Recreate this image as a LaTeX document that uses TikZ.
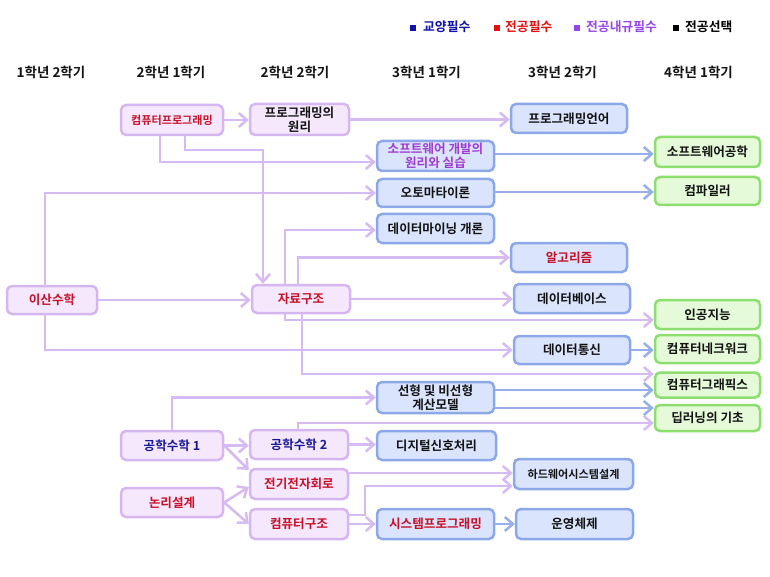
\documentclass[tikz,border=0pt]{standalone}
\usepackage{fontspec}
\setmainfont{Noto Sans CJK KR}[BoldFont={* Bold}]
\usetikzlibrary{arrows.meta}
\definecolor{pfill}{RGB}{245,232,252}
\definecolor{pdraw}{RGB}{214,182,240}
\definecolor{bfill}{RGB}{218,228,252}
\definecolor{bdraw}{RGB}{140,168,232}
\definecolor{gfill}{RGB}{228,250,216}
\definecolor{gdraw}{RGB}{140,222,110}
\definecolor{pline}{RGB}{214,186,244}
\definecolor{bline}{RGB}{150,174,236}
\definecolor{tred}{RGB}{200,16,40}
\definecolor{tblue}{RGB}{24,24,150}
\definecolor{tpurp}{RGB}{160,60,210}
\definecolor{tblack}{RGB}{20,20,20}
\definecolor{lgblue}{RGB}{16,16,170}
\definecolor{lgred}{RGB}{226,16,16}
\definecolor{lgpurp}{RGB}{150,70,230}
\begin{document}
\begin{tikzpicture}[x=1pt,y=-1pt,
  box/.style={rounded corners=5pt, line width=2.5pt, inner sep=0pt, align=center,
    text=tblack, font=\fontsize{12.6}{14}\selectfont\bfseries},
  pbox/.style={box, fill=pfill, draw=pdraw},
  bbox/.style={box, fill=bfill, draw=bdraw},
  gbox/.style={box, fill=gfill, draw=gdraw},
  small/.style={font=\fontsize{11.1}{13}\selectfont\bfseries},
  parrow/.style={draw=pline, line width=2.5pt, -{Straight Barb[length=8pt,width=14pt]}},
  barrow/.style={draw=bline, line width=2.5pt, -{Straight Barb[length=8pt,width=14pt]}},
  head/.style={font=\fontsize{13.5}{15}\selectfont\bfseries, text=tblack, inner sep=0pt},
  lgsq/.style={minimum width=5.5pt, minimum height=6pt, inner sep=0pt},
  lgtext/.style={font=\fontsize{12.8}{14}\selectfont\bfseries, inner sep=0pt, anchor=west}
]
\useasboundingbox (0,0) rectangle (770,577);
\fill[white] (0,0) rectangle (770,577);

% legend
\node[lgsq, fill=lgblue] (sq1) at (413,28) {};
\node[lgtext, text=lgblue] (lt1) at (423,27) {교양필수};
\node[lgsq, fill=lgred] (sq2) at (497,28) {};
\node[lgtext, text=lgred] (lt2) at (505,27) {전공필수};
\node[lgsq, fill=lgpurp] (sq3) at (577,28) {};
\node[lgtext, text=lgpurp] (lt3) at (586,27) {전공내규필수};
\node[lgsq, fill=black] (sq4) at (676,28) {};
\node[lgtext, text=black] (lt4) at (685,27) {전공선택};

% headers
\node[head] (h1) at (51,72) {1학년 2학기};
\node[head] (h2) at (171,72) {2학년 1학기};
\node[head] (h3) at (295,72) {2학년 2학기};
\node[head] (h4) at (426.5,72) {3학년 1학기};
\node[head] (h5) at (562.5,72) {3학년 2학기};
\node[head] (h6) at (698.5,72) {4학년 1학기};

% purple boxes
\node[pbox, small, text=tred, minimum width=102pt, minimum height=30pt] (cp) at (172,120) {컴퓨터프로그래밍};
\node[pbox, minimum width=99pt, minimum height=31pt] (pp) at (299.5,119.5) {프로그래밍의\\원리};
\node[pbox, text=tred, minimum width=90pt, minimum height=28pt] (dm) at (52,300) {이산수학};
\node[pbox, text=tred, minimum width=98pt, minimum height=28pt] (ds) at (301,299) {자료구조};
\node[pbox, text=tblue, minimum width=102pt, minimum height=29pt] (em1) at (172,445.5) {공학수학 1};
\node[pbox, text=tred, minimum width=102pt, minimum height=29pt] (ld) at (172,502.5) {논리설계};
\node[pbox, text=tblue, minimum width=98pt, minimum height=29pt] (em2) at (299,444.5) {공학수학 2};
\node[pbox, text=tred, minimum width=98pt, minimum height=30pt] (ee) at (299,484) {전기전자회로};
\node[pbox, text=tred, minimum width=98pt, minimum height=30pt] (ca) at (299,524) {컴퓨터구조};

% blue boxes, 3-1
\node[bbox, text=tpurp, minimum width=117pt, minimum height=30pt] (swp) at (435.5,156) {소프트웨어 개발의\\원리와 실습};
\node[bbox, minimum width=117pt, minimum height=28pt] (auto) at (435.5,193) {오토마타이론};
\node[bbox, minimum width=117pt, minimum height=29pt] (dmin) at (435.5,228.5) {데이터마이닝 개론};
\node[bbox, minimum width=117pt, minimum height=31pt] (lin) at (435.5,397.5) {선형 및 비선형\\계산모델};
\node[bbox, minimum width=119pt, minimum height=29pt] (dsp) at (436.5,445.5) {디지털신호처리};
\node[bbox, text=tred, minimum width=117pt, minimum height=30pt] (sysp) at (435.5,524) {시스템프로그래밍};

% blue boxes, 3-2
\node[bbox, minimum width=116pt, minimum height=29pt] (plang) at (569,118.5) {프로그래밍언어};
\node[bbox, text=tred, minimum width=116pt, minimum height=29pt] (alg) at (569,257.5) {알고리즘};
\node[bbox, minimum width=116pt, minimum height=29pt] (db) at (572,298.5) {데이터베이스};
\node[bbox, minimum width=116pt, minimum height=28pt] (dc) at (572,350) {데이터통신};
\node[bbox, small, minimum width=119pt, minimum height=30pt] (hw) at (573.5,474) {하드웨어시스템설계};
\node[bbox, minimum width=117pt, minimum height=30pt] (os) at (574.5,524) {운영체제};

% green boxes, 4-1
\node[gbox, minimum width=105pt, minimum height=30pt] (swe) at (707.5,152) {소프트웨어공학};
\node[gbox, minimum width=105pt, minimum height=28pt] (comp) at (707.5,191) {컴파일러};
\node[gbox, minimum width=105pt, minimum height=29pt] (ai) at (707.5,314.5) {인공지능};
\node[gbox, minimum width=105pt, minimum height=28pt] (net) at (707.5,349) {컴퓨터네크워크};
\node[gbox, minimum width=105pt, minimum height=25pt] (cg) at (707.5,385) {컴퓨터그래픽스};
\node[gbox, minimum width=105pt, minimum height=26pt] (dl) at (707.5,418) {딥러닝의 기초};

% purple connectors
\draw[parrow] (cp.east) -- (cp.east -| pp.west);
\draw[parrow] (pp.east) -- (pp.east -| plang.west);
\draw[parrow] (160,0 |- cp.south) |- (swp.west |- 0,162);
\draw[parrow] (185,0 |- cp.south) |- (263,150) -- (263,0 |- ds.north);
\draw[parrow] (45,0 |- dm.north) |- (auto.west);
\draw[parrow] (dm.east) -- (dm.east -| ds.west);
\draw[parrow] (45,0 |- dm.south) |- (dc.west);
\draw[parrow] (285,0 |- ds.north) |- (dmin.west |- 0,230);
\draw[parrow] (298,0 |- ds.north) |- (alg.west);
\draw[parrow] (ds.east) -- (ds.east -| db.west);
\draw[parrow] (285,0 |- ds.south) |- (ai.west |- 0,320);
\draw[parrow] (302,0 |- ds.south) |- (cg.west |- 0,374);
\draw[parrow] (172,0 |- em1.north) |- (lin.west);
\draw[parrow] (em1.east) -- (em1.east -| em2.west);
\draw[parrow] (em1.east) -- (ee.west |- 0,470);
\draw[parrow] (ld.east) -- (ee.west |- 0,487);
\draw[parrow] (ld.east) -- (ca.west);
\draw[parrow] (298,0 |- em2.north) |- (dl.west |- 0,423);
\draw[parrow] (em2.east) -- (em2.east -| dsp.west);
\draw[parrow] (ee.east |- 0,473) -- (hw.west |- 0,473);
\draw[parrow] (ca.east |- 0,515) -- (365,515) |- (hw.west |- 0,486);
\draw[parrow] (ca.east) -- (ca.east -| sysp.west);

% blue connectors
\draw[barrow] (sysp.east) -- (sysp.east -| os.west);
\draw[barrow] (swp.east |- 0,154) -- (swe.west |- 0,154);
\draw[barrow] (auto.east |- 0,192) -- (comp.west |- 0,192);
\draw[barrow] (dc.east) -- (dc.east -| net.west);
\draw[barrow] (lin.east |- 0,390) -- (cg.west |- 0,390);
\draw[barrow] (lin.east |- 0,408) -- (dl.west |- 0,408);
\end{tikzpicture}
\end{document}
